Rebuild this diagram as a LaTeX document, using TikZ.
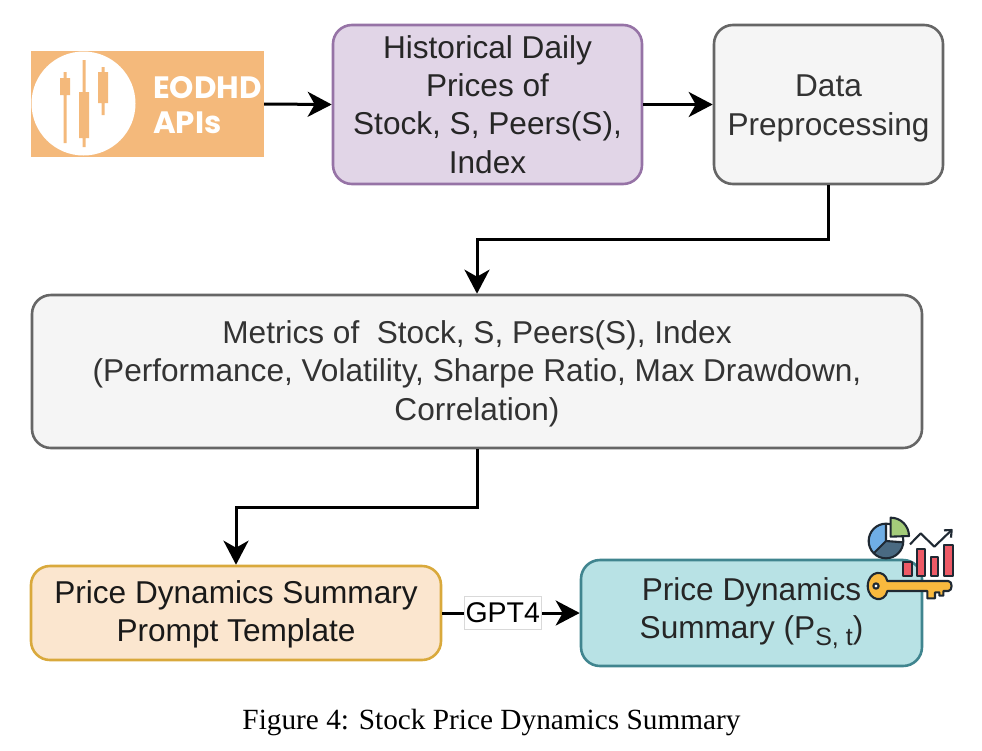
\documentclass[tikz,border=0pt]{standalone}
\usepackage{fontspec}
\setmainfont{Liberation Sans}
\newfontfamily\capfont{Liberation Serif}
\newfontfamily\logofont{Poppins}
\usetikzlibrary{arrows.meta}
\definecolor{logoc}{HTML}{F4B97B}
\definecolor{purpF}{HTML}{E1D5E7}\definecolor{purpD}{HTML}{9673A6}
\definecolor{grayF}{HTML}{F5F5F5}\definecolor{grayD}{HTML}{666666}
\definecolor{oranF}{HTML}{FBE6CF}\definecolor{oranD}{HTML}{D9A93C}
\definecolor{tealF}{HTML}{B8E2E5}\definecolor{tealD}{HTML}{40858F}
\definecolor{txtg}{HTML}{333333}
\definecolor{pieB}{HTML}{6FAEE6}\definecolor{pieD}{HTML}{4A6A82}\definecolor{pieG}{HTML}{A4CC7A}
\definecolor{barR}{HTML}{EE5A66}\definecolor{keyY}{HTML}{F9B93E}\definecolor{icoL}{HTML}{1F2933}
\newcommand{\lowerby}[1]{\rule{0pt}{#1pt}}
\tikzset{
  x=1pt,y=-1pt,
  boxbase/.style={draw,line width=2.6pt,rounded corners=19pt,align=center,inner sep=0pt,
    font=\fontsize{31.6}{38.3}\selectfont},
  purplebox/.style={boxbase,fill=purpF,draw=purpD,text=black!85},
  graybox/.style={boxbase,fill=grayF,draw=grayD,text=txtg},
  orangebox/.style={boxbase,fill=oranF,draw=oranD,text=black!90},
  tealbox/.style={boxbase,fill=tealF,draw=tealD,text=black!85},
  arr/.style={line width=3pt,black,-{Stealth[length=24pt,width=25pt,inset=7pt]}},
  ico/.style={draw=icoL,line width=2.1pt,line join=round},
  logotext/.style={anchor=base west,inner sep=0pt,text=white,font=\logofont\bfseries\fontsize{30.9}{33}\selectfont},
}
\begin{document}
\begin{tikzpicture}
\useasboundingbox (0,0) rectangle (982,750);
% logo
\node[fill=logoc,minimum width=233pt,minimum height=106pt,inner sep=0pt] (logo) at (147.5,104) {};
\fill[white] (83.5,103.5) circle[radius=52];
\fill[logoc] (63.5,72) rectangle (66.5,143) (60,78) rectangle (70,95);
\fill[logoc] (82.5,60) rectangle (85.5,147) (79,92) rectangle (89,138);
\fill[logoc] (101.5,67) rectangle (104.5,115) (98,72) rectangle (108,103);
\node[logotext] (logoa) at (153,98) {EODHD};
\node[logotext] (logob) at (153,133) {APIs};
% boxes
\node[purplebox,minimum width=309pt,minimum height=159pt] (hist) at (487.5,104.5) {Historical Daily\\Prices of\\Stock, S, Peers(S),\\Index};
\node[graybox,minimum width=229pt,minimum height=159pt] (data) at (828.5,104.5) {\lowerby{29.5}Data\\Preprocessing};
\node[graybox,minimum width=890pt,minimum height=153pt] (metrics) at (477,371.5) {\lowerby{27}Metrics of\ \ Stock, S, Peers(S), Index\\(Performance, Volatility, Sharpe Ratio, Max Drawdown,\\Correlation)};
\node[orangebox,minimum width=410pt,minimum height=94pt] (prompt) at (236,613) {\lowerby{26}Price Dynamics Summary\\Prompt Template};
\node[tealbox,minimum width=341pt,minimum height=106pt] (out) at (751.5,613) {Price Dynamics\\Summary (P\raisebox{-7pt}{\fontsize{25}{25}\selectfont S, t})};
% connectors
\coordinate (m1) at (477,239);
\coordinate (m2) at (236,507);
\draw[arr] (logo.east) -- (hist.west);
\draw[arr] (hist.east) -- (data.west);
\draw[arr] (data.south) |- (m1) -- (metrics.north);
\draw[arr] (metrics.south) |- (m2) -- (prompt.north);
\draw[arr] (prompt.east) -- (out.west)
  node[pos=0.44,fill=white,draw=black!15,line width=0.5pt,inner sep=0pt,minimum width=77pt,minimum height=33pt,
       font=\fontsize{28.5}{30}\selectfont,text=black] (gpt) {GPT4};
% icons
\begin{scope}[shift={(850,505)},x=0.3333pt,y=-0.3333pt]
  % pie
  \fill[pieB] (108,108) -- (108,56) arc[start angle=-90,end angle=-225,radius=52] -- cycle;
  \fill[pieD] (108,108) -- (71,145) arc[start angle=-225,end angle=-355,radius=52] -- cycle;
  \draw[ico] (108,56) -- (108,108) -- (71,145) (108,108) -- (160,112);
  \draw[ico] (108,108) circle[radius=52];
  \draw[ico,fill=pieG] (122,38) arc[start angle=-90,end angle=0,radius=55] -- (122,95) -- cycle;
  % trend
  \draw[ico] (180,118) -- (212,85) -- (253,125) -- (303,77);
  \draw[ico] (282,76) -- (305,75) -- (303,98);
  % bars
  \foreach \a/\b/\t in {160/185/170,200/225/132,242/265/155,283/308/120}
    \draw[ico,fill=barR] (\a,212) rectangle (\b,\t);
  % key
  \draw[ico,fill=keyY] (112,228) -- (295,228) .. controls (308,228) and (308,258) .. (295,258)
    -- (280,258) -- (280,272) -- (268,272) -- (268,262) -- (255,262) -- (255,280) -- (232,280) -- (232,258)
    -- (112,258) .. controls (105,295) and (55,290) .. (53,243) .. controls (55,195) and (105,192) .. (112,228) -- cycle;
  \draw[ico,fill=white] (78,243) circle[radius=8];
\end{scope}
% caption
\node[font=\capfont\fontsize{29.3}{32}\selectfont,inner sep=0pt,text=black] (cap) at (491.5,722) {Figure 4: Stock Price Dynamics Summary};
\end{tikzpicture}
\end{document}
